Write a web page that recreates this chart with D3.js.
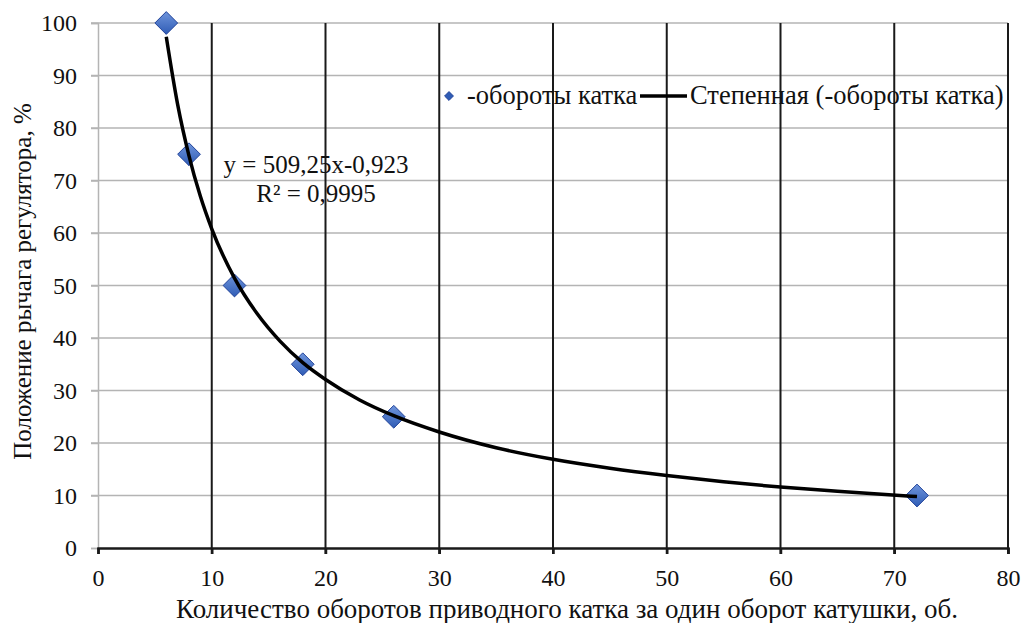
<!DOCTYPE html>
<html>
<head>
<meta charset="utf-8">
<script src="https://cdn.jsdelivr.net/npm/d3@7"></script>
<style>
  body { margin: 0; background: #fff; }
  svg text { font-family: "Liberation Serif", "DejaVu Serif", serif; fill: #111; }
</style>
</head>
<body>
<div id="chart"></div>
<script>
// measured points
const turns = [6, 8, 12, 18, 26, 72];
const leverPos = [100, 75, 50, 35, 25, 10];

// power trend line
const trendX = [6, 7, 8, 9, 10, 12, 14, 16, 18, 20, 23, 26, 30, 35, 40, 45, 50, 55, 60, 65, 72];
const trendY = [97.4, 84.5, 74.7, 67.0, 60.8, 51.4, 44.6, 39.4, 35.3, 32.1, 28.2, 25.2, 22.1, 19.1, 16.9, 15.2, 13.8, 12.6, 11.6, 10.8, 9.8];

const xTicks = [0, 10, 20, 30, 40, 50, 60, 70, 80];
const yTicks = [0, 10, 20, 30, 40, 50, 60, 70, 80, 90, 100];

const serif = "'Liberation Serif', 'DejaVu Serif', serif";
const width = 1021, height = 623;
const margin = { top: 23, right: 13, bottom: 75, left: 98 };
const innerW = width - margin.left - margin.right;
const innerH = height - margin.top - margin.bottom;

const svg = d3.select("#chart").append("svg")
  .attr("width", width)
  .attr("height", height)
  .attr("font-family", serif);

const defs = svg.append("defs");
const grad = defs.append("linearGradient")
  .attr("id", "diamondFill")
  .attr("x1", "0").attr("y1", "0").attr("x2", "0").attr("y2", "1");
grad.append("stop").attr("offset", "0%").attr("stop-color", "#6f95dc");
grad.append("stop").attr("offset", "100%").attr("stop-color", "#2f5cb5");

const chart = svg.append("g")
  .attr("transform", `translate(${margin.left},${margin.top})`);

const x = d3.scaleLinear().domain([0, 80]).range([0, innerW]);
const y = d3.scaleLinear().domain([0, 100]).range([innerH, 0]);

// horizontal gridlines (light grey)
chart.append("g")
  .selectAll("line")
  .data(yTicks.filter(d => d > 0))
  .join("line")
  .attr("x1", -7)
  .attr("x2", innerW)
  .attr("y1", d => y(d))
  .attr("y2", d => y(d))
  .attr("stroke", "#b4b4b4")
  .attr("stroke-width", 1.5);

// vertical gridlines (dark)
chart.append("g")
  .selectAll("line")
  .data(xTicks.filter(d => d > 0))
  .join("line")
  .attr("x1", d => x(d))
  .attr("x2", d => x(d))
  .attr("y1", 0)
  .attr("y2", innerH + 6)
  .attr("stroke", "#1a1a1a")
  .attr("stroke-width", 2);

// y axis
const yAxis = d3.axisLeft(y).tickValues(yTicks).tickSize(7).tickPadding(14);
const yG = chart.append("g").call(yAxis).attr("font-family", serif);
yG.select(".domain").attr("stroke", "#b4b4b4").attr("stroke-width", 1.5);
yG.selectAll(".tick line").attr("stroke", "#b4b4b4").attr("stroke-width", 1.5);
yG.selectAll(".tick text")
  .style("font-family", serif)
  .style("font-size", "24px")
  .attr("fill", "#111");

// x axis
const xAxis = d3.axisBottom(x).tickValues(xTicks).tickSize(6).tickPadding(15);
const xG = chart.append("g")
  .attr("transform", `translate(0,${innerH})`)
  .call(xAxis)
  .attr("font-family", serif);
xG.select(".domain").attr("stroke", "#1a1a1a").attr("stroke-width", 2.5);
xG.selectAll(".tick line").attr("stroke", "#1a1a1a").attr("stroke-width", 2.5);
xG.selectAll(".tick text")
  .style("font-family", serif)
  .style("font-size", "24px")
  .attr("fill", "#111");

// diamond markers
const diamond = d3.symbol().type(d3.symbolDiamond2).size(330);
chart.append("g")
  .selectAll("path")
  .data(turns)
  .join("path")
  .attr("d", diamond)
  .attr("transform", (d, i) => `translate(${x(d)},${y(leverPos[i])})`)
  .attr("fill", "url(#diamondFill)")
  .attr("stroke", "#23449a")
  .attr("stroke-width", 1);

// trend line (drawn over the markers, as in the original)
const line = d3.line()
  .x((d, i) => x(trendX[i]))
  .y((d, i) => y(trendY[i]))
  .curve(d3.curveMonotoneX);
chart.append("path")
  .datum(trendY)
  .attr("d", line)
  .attr("fill", "none")
  .attr("stroke", "#000")
  .attr("stroke-width", 3.5);

// equation label
chart.append("text")
  .attr("x", 218)
  .attr("y", 150)
  .attr("text-anchor", "middle")
  .style("font-size", "25px")
  .text("y = 509,25x-0,923");
chart.append("text")
  .attr("x", 218)
  .attr("y", 179)
  .attr("text-anchor", "middle")
  .style("font-size", "25px")
  .text("R² = 0,9995");

// legend
const legend = chart.append("g").attr("transform", `translate(${449 - margin.left},${96 - margin.top})`);
legend.append("path")
  .attr("d", d3.symbol().type(d3.symbolDiamond2).size(50))
  .attr("fill", "#2f5cb5")
  .attr("stroke", "#23449a");
legend.append("text")
  .attr("x", 18)
  .attr("y", 8)
  .style("font-size", "26.5px")
  .text("-обороты катка");
legend.append("line")
  .attr("x1", 191).attr("x2", 238)
  .attr("y1", 0).attr("y2", 0)
  .attr("stroke", "#000")
  .attr("stroke-width", 3.5);
legend.append("text")
  .attr("x", 241)
  .attr("y", 8)
  .style("font-size", "26.5px")
  .text("Степенная (-обороты катка)");

// axis titles
svg.append("text")
  .attr("x", 567)
  .attr("y", 618)
  .attr("text-anchor", "middle")
  .style("font-size", "27px")
  .text("Количество оборотов приводного катка за один оборот катушки, об.");

svg.append("text")
  .attr("transform", `translate(31,${margin.top + innerH / 2 - 4}) rotate(-90)`)
  .attr("text-anchor", "middle")
  .style("font-size", "25px")
  .text("Положение рычага регулятора, %");
</script>
</body>
</html>
